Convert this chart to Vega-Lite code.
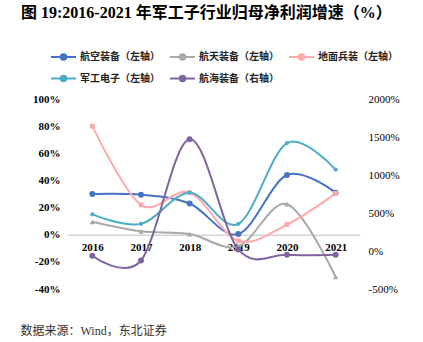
{
  "$schema": "https://vega.github.io/schema/vega-lite/v6.json",
  "width": 292,
  "height": 190,
  "autosize": {"type": "none"},
  "padding": {"left": 68, "top": 99, "right": 63, "bottom": 53},
  "background": "white",
  "config": {
    "view": {"stroke": null},
    "font": "Liberation Serif, Noto Sans CJK SC"
  },
  "title": {
    "text": "图  19:2016-2021 年军工子行业归母净利润增速（%）",
    "anchor": "start",
    "frame": "group",
    "dx": -47,
    "offset": 22,
    "fontSize": 16,
    "fontWeight": "bold",
    "color": "#000000",
    "font": "Liberation Serif, Noto Sans CJK SC"
  },
  "data": {
    "values": [
      {"year": "2016", "series": "航空装备（左轴）", "axis": "left", "value": 30},
      {"year": "2017", "series": "航空装备（左轴）", "axis": "left", "value": 29.5},
      {"year": "2018", "series": "航空装备（左轴）", "axis": "left", "value": 23},
      {"year": "2019", "series": "航空装备（左轴）", "axis": "left", "value": 0.5},
      {"year": "2020", "series": "航空装备（左轴）", "axis": "left", "value": 44},
      {"year": "2021", "series": "航空装备（左轴）", "axis": "left", "value": 31},
      {"year": "2016", "series": "航天装备（左轴）", "axis": "left", "value": 9.5},
      {"year": "2017", "series": "航天装备（左轴）", "axis": "left", "value": 2.5},
      {"year": "2018", "series": "航天装备（左轴）", "axis": "left", "value": 0.5},
      {"year": "2019", "series": "航天装备（左轴）", "axis": "left", "value": -8.5},
      {"year": "2020", "series": "航天装备（左轴）", "axis": "left", "value": 22.5},
      {"year": "2021", "series": "航天装备（左轴）", "axis": "left", "value": -31},
      {"year": "2016", "series": "地面兵装（左轴）", "axis": "left", "value": 80},
      {"year": "2017", "series": "地面兵装（左轴）", "axis": "left", "value": 22},
      {"year": "2018", "series": "地面兵装（左轴）", "axis": "left", "value": 31},
      {"year": "2019", "series": "地面兵装（左轴）", "axis": "left", "value": -4.5},
      {"year": "2020", "series": "地面兵装（左轴）", "axis": "left", "value": 7.5},
      {"year": "2021", "series": "地面兵装（左轴）", "axis": "left", "value": 30.5},
      {"year": "2016", "series": "军工电子（左轴）", "axis": "left", "value": 15},
      {"year": "2017", "series": "军工电子（左轴）", "axis": "left", "value": 8},
      {"year": "2018", "series": "军工电子（左轴）", "axis": "left", "value": 31},
      {"year": "2019", "series": "军工电子（左轴）", "axis": "left", "value": 8},
      {"year": "2020", "series": "军工电子（左轴）", "axis": "left", "value": 67.5},
      {"year": "2021", "series": "军工电子（左轴）", "axis": "left", "value": 48},
      {"year": "2016", "series": "航海装备（右轴）", "axis": "right", "value": -62},
      {"year": "2017", "series": "航海装备（右轴）", "axis": "right", "value": -125},
      {"year": "2018", "series": "航海装备（右轴）", "axis": "right", "value": 1470},
      {"year": "2019", "series": "航海装备（右轴）", "axis": "right", "value": 20},
      {"year": "2020", "series": "航海装备（右轴）", "axis": "right", "value": -50},
      {"year": "2021", "series": "航海装备（右轴）", "axis": "right", "value": -50}
    ]
  },
  "encoding": {
    "x": {
      "field": "year",
      "type": "ordinal",
      "scale": {"type": "point", "padding": 0.5},
      "axis": {
        "orient": "bottom",
        "offset": -54.3,
        "labelAngle": 0,
        "ticks": false,
        "domainColor": "#BFBFBF",
        "domainWidth": 1,
        "labelPadding": 7,
        "labelFont": "Liberation Serif",
        "labelFontSize": 11,
        "labelFontWeight": "bold",
        "labelColor": "#000000",
        "title": "数据来源：Wind，东北证券",
        "titleX": -48,
        "titleY": 100,
        "titleAlign": "left",
        "titleAnchor": "start",
        "titleBaseline": "alphabetic",
        "titleFont": "Liberation Serif, Noto Sans CJK SC",
        "titleFontSize": 12,
        "titleFontWeight": "normal",
        "titleColor": "#333333"
      }
    },
    "color": {
      "field": "series",
      "type": "nominal",
      "scale": {
        "domain": ["航空装备（左轴）", "航天装备（左轴）", "地面兵装（左轴）", "军工电子（左轴）", "航海装备（右轴）"],
        "range": ["#4472C4", "#A9A9A9", "#FFAAAA", "#4BACC6", "#8064A2"]
      },
      "legend": {
        "title": null,
        "orient": "none",
        "legendX": -18,
        "legendY": -56,
        "direction": "horizontal",
        "columns": 3,
        "columnPadding": 6,
        "rowPadding": 1,
        "symbolType": "M-1,0L1,0M-0.22,0A0.22,0.22 0 1,0 0.22,0A0.22,0.22 0 1,0 -0.22,0Z",
        "symbolSize": 625,
        "symbolStrokeWidth": 2,
        "labelFont": "Noto Sans CJK SC",
        "labelFontSize": 10,
        "labelFontWeight": "bold",
        "labelColor": "#222222",
        "labelOffset": 3
      }
    }
  },
  "layer": [
    {
      "transform": [{"filter": "datum.axis == 'left'"}],
      "encoding": {
        "y": {
          "field": "value",
          "type": "quantitative",
          "scale": {"domain": [-40, 100], "nice": false, "zero": false},
          "axis": {
            "orient": "left",
            "values": [-40, -20, 0, 20, 40, 60, 80, 100],
            "labelExpr": "datum.value + '%'",
            "grid": false,
            "domain": false,
            "ticks": false,
            "labelPadding": 8,
            "labelFont": "Liberation Serif",
            "labelFontSize": 11,
            "labelFontWeight": "bold",
            "labelColor": "#000000",
            "title": null
          }
        }
      },
      "layer": [
        {
          "mark": {"type": "line", "interpolate": "cardinal", "tension": 0, "strokeWidth": 2}
        },
        {
          "mark": {"type": "point", "filled": true, "opacity": 1},
          "encoding": {
            "shape": {
              "field": "series",
              "type": "nominal",
              "scale": {
                "domain": ["航空装备（左轴）", "航天装备（左轴）", "地面兵装（左轴）", "军工电子（左轴）"],
                "range": ["circle", "triangle-up", "square", "circle"]
              },
              "legend": null
            },
            "size": {
              "field": "series",
              "type": "nominal",
              "scale": {
                "domain": ["航空装备（左轴）", "航天装备（左轴）", "地面兵装（左轴）", "军工电子（左轴）"],
                "range": [35, 18, 40, 35]
              },
              "legend": null
            }
          }
        }
      ]
    },
    {
      "transform": [{"filter": "datum.axis == 'right'"}],
      "encoding": {
        "y": {
          "field": "value",
          "type": "quantitative",
          "scale": {"domain": [-500, 2000], "nice": false, "zero": false},
          "axis": {
            "orient": "right",
            "values": [-500, 0, 500, 1000, 1500, 2000],
            "labelExpr": "datum.value + '%'",
            "grid": false,
            "domain": false,
            "ticks": false,
            "labelPadding": 8,
            "labelFont": "Liberation Serif",
            "labelFontSize": 11,
            "labelColor": "#000000",
            "title": null
          }
        }
      },
      "layer": [
        {
          "mark": {"type": "line", "interpolate": "cardinal", "tension": 0, "strokeWidth": 2}
        },
        {
          "mark": {"type": "point", "filled": true, "opacity": 1, "size": 35, "shape": "circle"}
        }
      ]
    }
  ],
  "resolve": {"scale": {"y": "independent"}}
}
